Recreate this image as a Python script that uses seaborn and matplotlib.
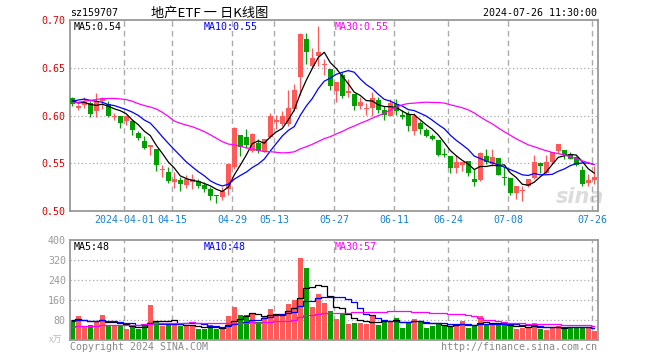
import numpy as np
import pandas as pd
import matplotlib
matplotlib.use("Agg")
import matplotlib.pyplot as plt
import seaborn as sns

# ---------------- data ----------------
opens = [0.618, 0.608, 0.611, 0.613, 0.605, 0.615, 0.612, 0.598, 0.599, 0.594,
         0.594, 0.582, 0.573, 0.567, 0.565, 0.543, 0.541, 0.530, 0.532, 0.527,
         0.530, 0.531, 0.527, 0.523, 0.517, 0.515, 0.523, 0.546, 0.580, 0.578,
         0.563, 0.571, 0.563, 0.577, 0.593, 0.591, 0.591, 0.607, 0.640, 0.680,
         0.652, 0.662, 0.653, 0.649, 0.626, 0.642, 0.624, 0.622, 0.610, 0.607,
         0.608, 0.616, 0.606, 0.600, 0.612, 0.601, 0.602, 0.584, 0.592, 0.585,
         0.579, 0.574, 0.560, 0.558, 0.545, 0.548, 0.552, 0.533, 0.532, 0.558,
         0.549, 0.556, 0.536, 0.535, 0.519, 0.521, 0.526, 0.535, 0.550, 0.540,
         0.551, 0.563, 0.564, 0.560, 0.557, 0.543, 0.529, 0.532]
highs = [0.619, 0.612, 0.619, 0.615, 0.624, 0.619, 0.615, 0.603, 0.599, 0.601,
         0.596, 0.584, 0.579, 0.569, 0.565, 0.548, 0.546, 0.541, 0.536, 0.538,
         0.539, 0.533, 0.530, 0.525, 0.517, 0.525, 0.549, 0.588, 0.580, 0.586,
         0.582, 0.575, 0.575, 0.603, 0.601, 0.605, 0.627, 0.633, 0.686, 0.686,
         0.671, 0.694, 0.659, 0.649, 0.635, 0.646, 0.638, 0.622, 0.619, 0.613,
         0.625, 0.619, 0.610, 0.617, 0.617, 0.606, 0.605, 0.603, 0.594, 0.587,
         0.581, 0.574, 0.566, 0.558, 0.559, 0.551, 0.552, 0.544, 0.562, 0.565,
         0.565, 0.556, 0.546, 0.535, 0.526, 0.526, 0.533, 0.559, 0.551, 0.559,
         0.562, 0.570, 0.564, 0.562, 0.558, 0.547, 0.539, 0.547]
lows = [0.610, 0.606, 0.608, 0.598, 0.598, 0.607, 0.598, 0.595, 0.587, 0.590,
        0.580, 0.574, 0.565, 0.559, 0.542, 0.536, 0.529, 0.524, 0.521, 0.524,
        0.523, 0.524, 0.520, 0.512, 0.508, 0.511, 0.517, 0.544, 0.558, 0.566,
        0.562, 0.561, 0.562, 0.576, 0.586, 0.589, 0.589, 0.605, 0.621, 0.654,
        0.650, 0.652, 0.642, 0.627, 0.614, 0.618, 0.619, 0.606, 0.607, 0.601,
        0.599, 0.603, 0.595, 0.599, 0.601, 0.596, 0.584, 0.580, 0.581, 0.578,
        0.574, 0.558, 0.557, 0.540, 0.540, 0.542, 0.537, 0.526, 0.531, 0.549,
        0.547, 0.538, 0.527, 0.517, 0.513, 0.510, 0.525, 0.534, 0.540, 0.539,
        0.549, 0.561, 0.554, 0.554, 0.547, 0.526, 0.526, 0.528]
closes = [0.612, 0.610, 0.614, 0.602, 0.615, 0.618, 0.600, 0.600, 0.592, 0.599,
          0.585, 0.576, 0.566, 0.569, 0.548, 0.543, 0.531, 0.534, 0.528, 0.534,
          0.533, 0.526, 0.523, 0.516, 0.516, 0.521, 0.549, 0.587, 0.567, 0.569,
          0.581, 0.563, 0.575, 0.600, 0.595, 0.599, 0.608, 0.627, 0.685, 0.666,
          0.660, 0.666, 0.654, 0.631, 0.635, 0.620, 0.626, 0.610, 0.614, 0.608,
          0.618, 0.606, 0.601, 0.613, 0.605, 0.598, 0.589, 0.599, 0.586, 0.579,
          0.575, 0.559, 0.559, 0.545, 0.551, 0.551, 0.540, 0.530, 0.561, 0.551,
          0.557, 0.538, 0.535, 0.519, 0.526, 0.522, 0.533, 0.551, 0.547, 0.551,
          0.562, 0.570, 0.559, 0.554, 0.548, 0.528, 0.532, 0.536]
volumes = [82, 98, 57, 62, 75, 102, 56, 57, 57, 46,
           57, 46, 57, 142, 73, 56, 60, 66, 57, 57,
           57, 44, 44, 62, 44, 49, 96, 134, 100, 102,
           110, 73, 97, 126, 106, 106, 146, 160, 330, 290,
           133, 186, 150, 115, 86, 106, 66, 70, 70, 66,
           96, 62, 80, 73, 89, 50, 73, 86, 73, 50,
           56, 66, 57, 57, 57, 78, 50, 60, 97, 66,
           60, 60, 60, 60, 46, 49, 49, 70, 46, 40,
           49, 56, 53, 53, 50, 53, 50, 36]
# closes / volumes of the 29 sessions before the first visible one (estimated from MA lines)
prior_closes = [0.575, 0.578, 0.580, 0.585, 0.590, 0.595, 0.598, 0.608, 0.619, 0.640,
                0.650, 0.625, 0.615, 0.611, 0.645, 0.660, 0.680, 0.600, 0.590, 0.585,
                0.598, 0.604, 0.615, 0.625, 0.628, 0.625, 0.610, 0.613, 0.620]
prior_volumes = [40, 42, 39, 44, 41, 38, 43, 40, 42, 41, 39, 43, 40, 42, 41, 44, 40, 39, 42, 40,
                 70, 74, 71, 73, 72, 80, 84, 79, 85]
tick_slots = [9, 17, 27, 34, 44, 54, 63, 73, 87]
tick_labels = ["2024-04-01", "04-15", "04-29", "05-13", "05-27", "06-11", "06-24", "07-08", "07-26"]
price_ticks = [0.50, 0.55, 0.60, 0.65, 0.70]
vol_ticks = [80, 160, 240, 320, 400]
price_ma_text = ["MA5:0.54", "MA10:0.55", "MA30:0.55"]
vol_ma_text = ["MA5:48", "MA10:48", "MA30:57"]

# ---------------- styling ----------------
sns.set_theme(style="white")
plt.rcParams["font.family"] = ["DejaVu Sans Mono", "Noto Sans CJK SC"]

RED = "#ff5a5a"
GREEN = "#00a000"
GRID = "#aaaaaa"
SPINE = "#999999"
MA_COLORS = ["black", "#0000ff", "#ff00ff"]
FS = 7.2

n = len(closes)
xs = np.arange(n)
df = pd.DataFrame({"x": xs, "open": opens, "high": highs, "low": lows,
                   "close": closes, "vol": volumes})
df["dir"] = np.where(df["close"] >= df["open"], "up", "down")

c_all = pd.Series(prior_closes + closes)
v_all = pd.Series(prior_volumes + volumes)
k = len(prior_closes)
for w in (5, 10, 30):
    df[f"ma{w}"] = c_all.rolling(w).mean().iloc[k:].to_numpy()
    df[f"vma{w}"] = v_all.rolling(w).mean().iloc[k:].to_numpy()

fig = plt.figure(figsize=(6.6, 3.6), dpi=100)
ax = fig.add_axes([70 / 660, 1 - 211 / 360, 528 / 660, 191 / 360])
axv = fig.add_axes([70 / 660, 20 / 360, 528 / 660, 100 / 360])

XMIN, XMAX = -0.38, 87.62
grid_x = [s - 0.35 for s in tick_slots]

# ---------------- price panel ----------------
ax.text(0.966, 0.075, "sina", transform=ax.transAxes, ha="center", va="center",
        fontsize=15, fontweight="bold", style="italic", color="#dcdcdc",
        family="DejaVu Sans", zorder=0)
for y in price_ticks[1:-1]:
    ax.axhline(y, color=GRID, lw=0.9, ls=(0, (1, 2)), zorder=1)
for gx in grid_x:
    ax.axvline(gx, color=GRID, lw=1.0, ls=(0, (4, 3)), zorder=1)

colors = [RED if d == "up" else GREEN for d in df["dir"]]
ax.vlines(df["x"], df["low"], df["high"], colors=colors, lw=0.9, zorder=2)
body_bottom = np.minimum(df["open"], df["close"])
body_h = np.maximum(np.abs(df["close"] - df["open"]), 0.0009)
ax.bar(df["x"], body_h, bottom=body_bottom, width=0.8, color=colors,
       linewidth=0, zorder=3)

for w, col in zip((5, 10, 30), MA_COLORS):
    sns.lineplot(x=df["x"], y=df[f"ma{w}"], ax=ax, color=col, lw=0.9, zorder=4)

ax.set_xlim(XMIN, XMAX)
ax.set_ylim(0.50, 0.70)
ax.set_yticks(price_ticks)
ax.set_yticklabels([f"{t:.2f}" for t in price_ticks], color="#e00000", fontsize=FS)
ax.set_xticks(grid_x)
ax.set_xticklabels(tick_labels, color="#1482d2", fontsize=FS)
ax.tick_params(axis="both", length=0, pad=3)
ax.set_xlabel("")
ax.set_ylabel("")
for sp in ax.spines.values():
    sp.set_color(SPINE)
    sp.set_linewidth(1.3)

xpos = [0.006, 0.254, 0.502]
for t, col, xp in zip(price_ma_text, MA_COLORS, xpos):
    ax.text(xp, 0.963, t, transform=ax.transAxes, ha="left", va="center",
            color=col, fontsize=FS, zorder=5)

# ---------------- volume panel ----------------
for y in vol_ticks[:-1]:
    axv.axhline(y, color=GRID, lw=0.9, ls=(0, (1, 2)), zorder=1)
for gx in grid_x:
    axv.axvline(gx, color=GRID, lw=1.0, ls=(0, (4, 3)), zorder=1)

sns.barplot(data=df, x="x", y="vol", hue="dir", palette={"up": RED, "down": GREEN},
            native_scale=True, dodge=False, width=0.85, linewidth=0, saturation=1,
            legend=False, ax=axv, zorder=2)
for w, col in zip((5, 10, 30), MA_COLORS):
    sns.lineplot(x=df["x"], y=df[f"vma{w}"], ax=axv, color=col, lw=0.9,
                 drawstyle="steps-mid", zorder=4)

axv.set_xlim(XMIN, XMAX)
axv.set_ylim(0, 400)
axv.set_yticks(vol_ticks)
axv.set_yticklabels([str(t) for t in vol_ticks], color="#999999", fontsize=FS)
axv.set_xticks([])
axv.tick_params(axis="both", length=0, pad=3)
axv.set_xlabel("")
axv.set_ylabel("")
for sp in axv.spines.values():
    sp.set_color(SPINE)
    sp.set_linewidth(1.3)
for t, col, xp in zip(vol_ma_text, MA_COLORS, xpos):
    axv.text(xp, 0.933, t, transform=axv.transAxes, ha="left", va="center",
             color=col, fontsize=FS, zorder=5)

# ---------------- header / footer texts ----------------
fig.text(70 / 660, 1 - 13 / 360, "sz159707", ha="left", va="center", fontsize=FS, color="black")
fig.text(210 / 660, 1 - 13 / 360, "地产ETF 一 日K线图", ha="center", va="center",
         fontsize=9.5, color="black", family=["Noto Sans CJK SC", "DejaVu Sans"])
fig.text(597 / 660, 1 - 13 / 360, "2024-07-26 11:30:00", ha="right", va="center",
         fontsize=FS, color="black")
fig.text(70 / 660, 1 - 347 / 360, "Copyright 2024 SINA.COM", ha="left", va="center",
         fontsize=FS, color="#888888")
fig.text(597 / 660, 1 - 347 / 360, "http://finance.sina.com.cn", ha="right", va="center",
         fontsize=FS, color="#888888")
fig.text(49 / 660, 1 - 340 / 360, "x万", ha="left", va="center", fontsize=6.5,
         color="#bbbbbb", family=["Noto Sans CJK SC", "DejaVu Sans"])

fig.savefig("out.png", dpi=100, facecolor="white")
